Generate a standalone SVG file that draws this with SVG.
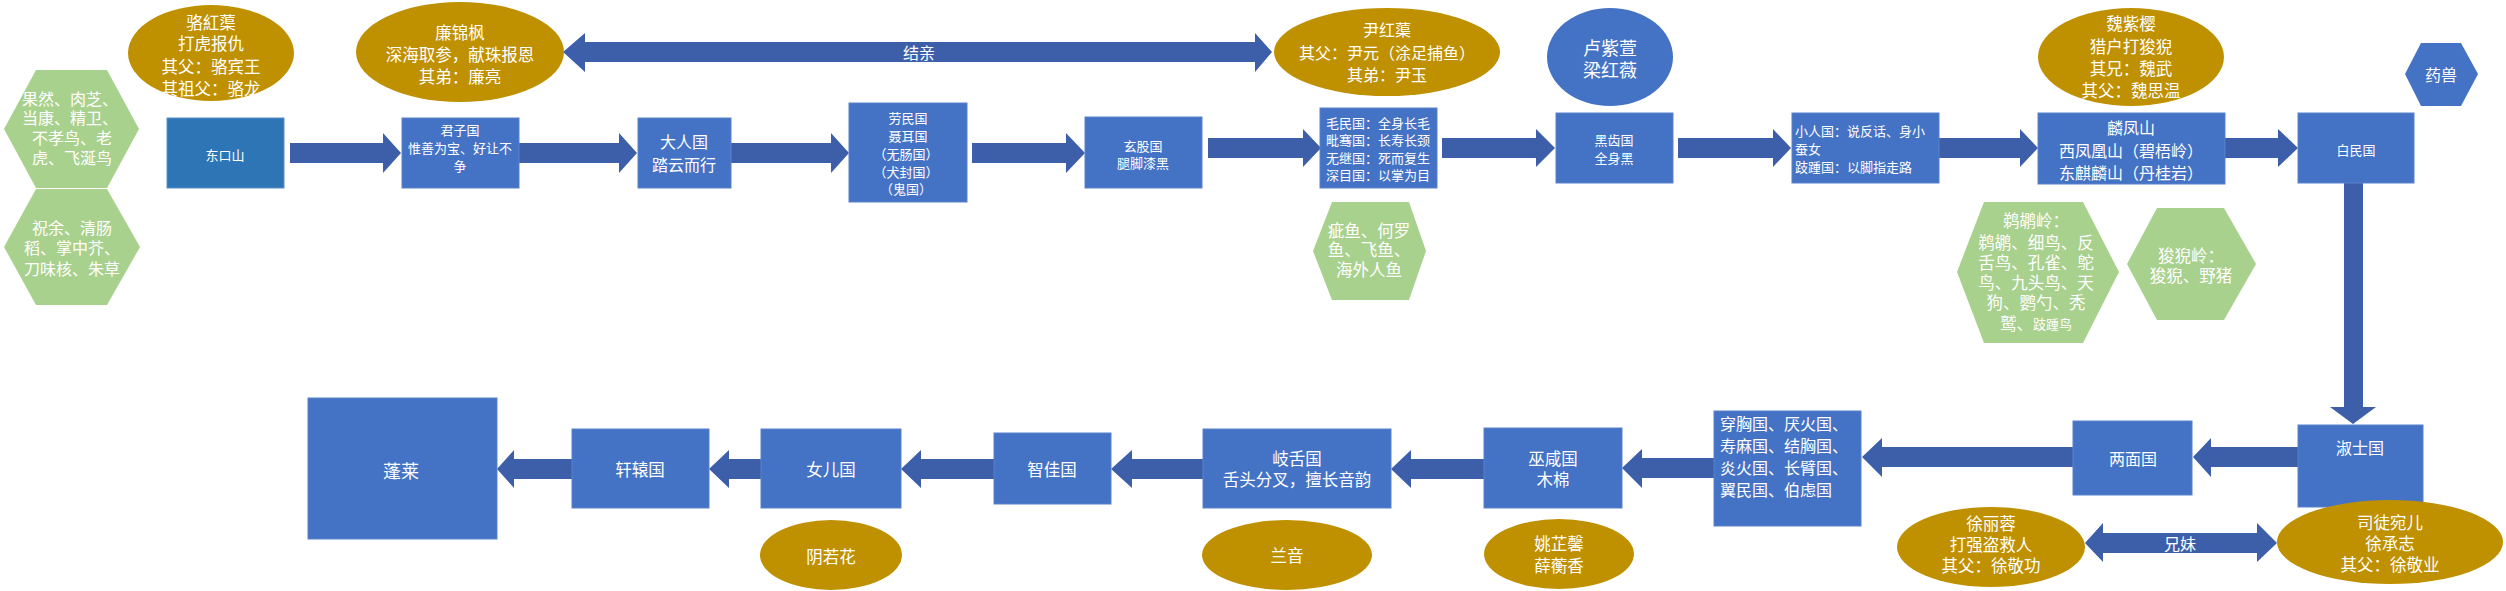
<svg xmlns="http://www.w3.org/2000/svg" width="2506" height="591" viewBox="0 0 2506 591">
<style>
.bg{fill:#ffffff}
.box{fill:#4472C4;stroke:#5b82cc;stroke-width:1}
.box0{fill:#2E75B6;stroke:#5b8fc8;stroke-width:1}
.ell{fill:#BF9000}
.ellb{fill:#4472C4}
.hex{fill:#A9D18E}
.hexb{fill:#4472C4}
.arr{fill:#3D5FAA}
.t{font-family:"Noto Sans CJK SC","Noto Sans",sans-serif;fill:#ffffff;text-anchor:middle;dominant-baseline:central}
.l{text-anchor:start}
.s13{font-size:13px}
.s16{font-size:16px}
.s17{font-size:16.5px}
.s18{font-size:18px}
</style>
<rect class="bg" x="0" y="0" width="2506" height="591"/>

<g id="connectors">
<polygon class="arr" points="290,143 383,143 383,133 401,153 383,173 383,163 290,163"/>
<polygon class="arr" points="519,143 619,143 619,133 637,153 619,173 619,163 519,163"/>
<polygon class="arr" points="731,143 831,143 831,133 849,153 831,173 831,163 731,163"/>
<polygon class="arr" points="972,143 1066,143 1066,133 1085,153 1066,173 1066,163 972,163"/>
<polygon class="arr" points="1208,138 1303,138 1303,129 1321,148 1303,167 1303,158 1208,158"/>
<polygon class="arr" points="1442,138 1536,138 1536,129 1555,148 1536,167 1536,158 1442,158"/>
<polygon class="arr" points="1678,138 1773,138 1773,129 1791,148 1773,167 1773,158 1678,158"/>
<polygon class="arr" points="1939,138 2020,138 2020,129 2038,148 2020,167 2020,158 1939,158"/>
<polygon class="arr" points="2225,138 2278,138 2278,129 2298,148 2278,167 2278,158 2225,158"/>
<polygon class="arr" points="2344,183 2363,183 2363,407 2376,407 2353,424 2330,407 2344,407"/>
<polygon class="arr" points="2298,447 2211,447 2211,438 2193,457 2211,477 2211,467 2298,467"/>
<polygon class="arr" points="2073,447 1882,447 1882,438 1862,457 1882,477 1882,467 2073,467"/>
<polygon class="arr" points="1714,458 1642,458 1642,449 1622,468 1642,488 1642,478 1714,478"/>
<polygon class="arr" points="1484,459 1411,459 1411,450 1391,469 1411,488 1411,479 1484,479"/>
<polygon class="arr" points="1203,459 1132,459 1132,450 1111,469 1132,488 1132,479 1203,479"/>
<polygon class="arr" points="994,459 921,459 921,450 901,469 921,488 921,479 994,479"/>
<polygon class="arr" points="761,459 729,459 729,450 709,469 729,488 729,479 761,479"/>
<polygon class="arr" points="572,459 514,459 514,450 497,469 514,488 514,479 572,479"/>
<polygon class="arr" points="563,52 585,33 585,42 1255,42 1255,33 1272,52 1255,72 1255,62 585,62 585,72"/>
<text class="t s16" x="919" y="52">结亲</text>
<polygon class="arr" points="2085,543 2103,523 2103,533 2257,533 2257,523 2277,543 2257,562 2257,553 2103,553 2103,562"/>
<text class="t s16" x="2180" y="543">兄妹</text>
</g>

<g id="hex-guoran">
<polygon class="hex" points="4,129 36,70 107,70 139,129 107,188 36,188"/>
<text class="t s16" x="70" y="98">果然、肉芝、</text>
<text class="t s16" x="70" y="117">当康、精卫、</text>
<text class="t s16" x="72" y="137">不孝鸟、老</text>
<text class="t s16" x="72" y="157">虎、飞涎鸟</text>
</g>
<g id="hex-zhuyu">
<polygon class="hex" points="4,247 36,189 107,189 140,247 107,305 36,305"/>
<text class="t s16" x="72" y="227">祝余、清肠</text>
<text class="t s16" x="72" y="247">稻、掌中芥、</text>
<text class="t s16" x="72" y="268">刀味核、朱草</text>
</g>

<g id="ell-luo">
<ellipse class="ell" cx="211" cy="53" rx="83" ry="48"/>
<text class="t s17" x="211" y="22">骆紅蕖</text>
<text class="t s17" x="211" y="43">打虎报仇</text>
<text class="t s17" x="211" y="66">其父：骆宾王</text>
<text class="t s17" x="211" y="88">其祖父：骆龙</text>
</g>

<g id="node-dongkou">
<rect class="box0" x="167" y="118" width="117" height="70"/>
<text class="t s13" x="225" y="154">东口山</text>
</g>

<g id="ell-lian">
<ellipse class="ell" cx="460" cy="52" rx="104" ry="50"/>
<text class="t s17" x="460" y="32">廉锦枫</text>
<text class="t s17" x="460" y="54">深海取参，献珠报恩</text>
<text class="t s17" x="460" y="76">其弟：廉亮</text>
</g>

<g id="node-junzi">
<rect class="box" x="402" y="118" width="117" height="70"/>
<text class="t s13" x="460" y="129">君子国</text>
<text class="t s13" x="460" y="147">惟善为宝、好让不</text>
<text class="t s13" x="460" y="165">争</text>
</g>

<g id="node-daren">
<rect class="box" x="638" y="118" width="93" height="70"/>
<text class="t s16" x="684" y="141">大人国</text>
<text class="t s16" x="684" y="164">踏云而行</text>
</g>

<g id="node-laomin">
<rect class="box" x="849" y="103" width="118" height="99"/>
<text class="t s13" x="908" y="117">劳民国</text>
<text class="t s13" x="908" y="135">聂耳国</text>
<text class="t s13" x="906" y="153">（无肠国）</text>
<text class="t s13" x="906" y="171">（犬封国）</text>
<text class="t s13" x="906" y="188">（鬼国）</text>
</g>

<g id="node-xuangu">
<rect class="box" x="1085" y="117" width="117" height="71"/>
<text class="t s13" x="1143" y="145">玄股国</text>
<text class="t s13" x="1143" y="162">腿脚漆黑</text>
</g>

<g id="ell-yin">
<ellipse class="ell" cx="1387" cy="52" rx="113" ry="44"/>
<text class="t s16" x="1387" y="29">尹红蕖</text>
<text class="t s16" x="1387" y="52">其父：尹元（涂足捕鱼）</text>
<text class="t s16" x="1387" y="74">其弟：尹玉</text>
</g>

<g id="node-maomin">
<rect class="box" x="1320" y="108" width="117" height="80"/>
<text class="t s13 l" x="1326" y="122">毛民国：全身长毛</text>
<text class="t s13 l" x="1326" y="139">毗骞国：长寿长颈</text>
<text class="t s13 l" x="1326" y="157">无继国：死而复生</text>
<text class="t s13 l" x="1326" y="174">深目国：以掌为目</text>
</g>

<g id="hex-ciyu">
<polygon class="hex" points="1313,251 1332,202 1409,202 1426,251 1409,300 1332,300"/>
<text class="t s17" x="1369" y="230">疵鱼、何罗</text>
<text class="t s17" x="1369" y="249">鱼、飞鱼、</text>
<text class="t s17" x="1369" y="269">海外人鱼</text>
</g>

<g id="ell-lu">
<ellipse class="ellb" cx="1610" cy="57" rx="63" ry="49"/>
<text class="t s18" x="1610" y="47">卢紫萱</text>
<text class="t s18" x="1610" y="69">梁红薇</text>
</g>

<g id="node-heichi">
<rect class="box" x="1556" y="113" width="117" height="70"/>
<text class="t s13" x="1614" y="139">黑齿国</text>
<text class="t s13" x="1614" y="157">全身黑</text>
</g>

<g id="node-xiaoren">
<rect class="box" x="1792" y="113" width="147" height="70"/>
<text class="t s13 l" x="1795" y="130">小人国：说反话、身小</text>
<text class="t s13 l" x="1795" y="148">蚕女</text>
<text class="t s13 l" x="1795" y="166">跂踵国：以脚指走路</text>
</g>

<g id="ell-wei">
<ellipse class="ell" cx="2131" cy="57" rx="93" ry="49"/>
<text class="t s17" x="2131" y="23">魏紫樱</text>
<text class="t s17" x="2131" y="46">猎户打狻猊</text>
<text class="t s17" x="2131" y="68">其兄：魏武</text>
<text class="t s17" x="2131" y="90">其父：魏思温</text>
</g>

<g id="node-linfeng">
<rect class="box" x="2038" y="113" width="187" height="71"/>
<text class="t s16" x="2131" y="127">麟凤山</text>
<text class="t s16" x="2131" y="150">西凤凰山（碧梧岭）</text>
<text class="t s16" x="2131" y="172">东麒麟山（丹桂岩）</text>
</g>

<g id="hex-tihu">
<polygon class="hex" points="1957,272 1984,202 2083,202 2119,272 2083,343 1984,343"/>
<text class="t s17" x="2036" y="220">鹈鹕岭：</text>
<text class="t s17" x="2036" y="242">鹈鹕、细鸟、反</text>
<text class="t s17" x="2036" y="262">舌鸟、孔雀、鸵</text>
<text class="t s17" x="2036" y="282">鸟、九头鸟、天</text>
<text class="t s17" x="2036" y="302">狗、鹦勺、秃</text>
<text class="t s17" x="2036" y="323">鹫、<tspan class="s13">跂踵鸟</tspan></text>
</g>

<g id="hex-suanni">
<polygon class="hex" points="2127,264 2157,208 2224,208 2256,264 2224,320 2157,320"/>
<text class="t s17" x="2191" y="255">狻猊岭：</text>
<text class="t s17" x="2191" y="275">狻猊、野猪</text>
</g>

<g id="node-baimin">
<rect class="box" x="2298" y="113" width="116" height="70"/>
<text class="t s13" x="2356" y="149">白民国</text>
</g>

<g id="hex-yaoshou">
<polygon class="hexb" points="2405,74 2421,43 2461,43 2478,74 2461,106 2421,106"/>
<text class="t s16" x="2441" y="74">药兽</text>
</g>

<g id="node-shushi">
<rect class="box" x="2298" y="425" width="125" height="82"/>
<text class="t s16" x="2360" y="447">淑士国</text>
</g>

<g id="node-liangmian">
<rect class="box" x="2073" y="421" width="119" height="74"/>
<text class="t s16" x="2133" y="458">两面国</text>
</g>

<g id="node-chuanxiong">
<rect class="box" x="1714" y="411" width="147" height="115"/>
<text class="t s16 l" x="1720" y="423">穿胸国、厌火国、</text>
<text class="t s16 l" x="1720" y="445">寿麻国、结胸国、</text>
<text class="t s16 l" x="1720" y="467">炎火国、长臂国、</text>
<text class="t s16 l" x="1720" y="489">翼民国、伯虑国</text>
</g>

<g id="ell-xu">
<ellipse class="ell" cx="1991" cy="547" rx="94" ry="40"/>
<text class="t s17" x="1991" y="523">徐丽蓉</text>
<text class="t s17" x="1991" y="544">打强盗救人</text>
<text class="t s17" x="1991" y="565">其父：徐敬功</text>
</g>

<g id="ell-situ">
<ellipse class="ell" cx="2390" cy="542" rx="113" ry="42"/>
<text class="t s17" x="2390" y="522">司徒宛儿</text>
<text class="t s17" x="2390" y="543">徐承志</text>
<text class="t s17" x="2390" y="564">其父：徐敬业</text>
</g>

<g id="node-wuxian">
<rect class="box" x="1484" y="428" width="138" height="80"/>
<text class="t s17" x="1553" y="458">巫咸国</text>
<text class="t s17" x="1553" y="479">木棉</text>
</g>

<g id="ell-yao">
<ellipse class="ell" cx="1559" cy="554" rx="75" ry="35"/>
<text class="t s17" x="1559" y="543">姚芷馨</text>
<text class="t s17" x="1559" y="565">薛蘅香</text>
</g>

<g id="node-qishe">
<rect class="box" x="1203" y="429" width="188" height="79"/>
<text class="t s17" x="1297" y="458">岐舌国</text>
<text class="t s17" x="1297" y="479">舌头分叉，擅长音韵</text>
</g>

<g id="ell-lanyin">
<ellipse class="ell" cx="1287" cy="555" rx="85" ry="35"/>
<text class="t s17" x="1287" y="555">兰音</text>
</g>

<g id="node-zhijia">
<rect class="box" x="994" y="433" width="117" height="71"/>
<text class="t s17" x="1052" y="469">智佳国</text>
</g>

<g id="node-nver">
<rect class="box" x="761" y="429" width="140" height="79"/>
<text class="t s17" x="831" y="469">女儿国</text>
</g>

<g id="ell-yinruohua">
<ellipse class="ell" cx="831" cy="555" rx="71" ry="35"/>
<text class="t s17" x="831" y="556">阴若花</text>
</g>

<g id="node-xuanyuan">
<rect class="box" x="572" y="429" width="137" height="79"/>
<text class="t s17" x="640" y="469">轩辕国</text>
</g>

<g id="node-penglai">
<rect class="box" x="308" y="398" width="189" height="141"/>
<text class="t s18" x="401" y="470">蓬莱</text>
</g>
</svg>
